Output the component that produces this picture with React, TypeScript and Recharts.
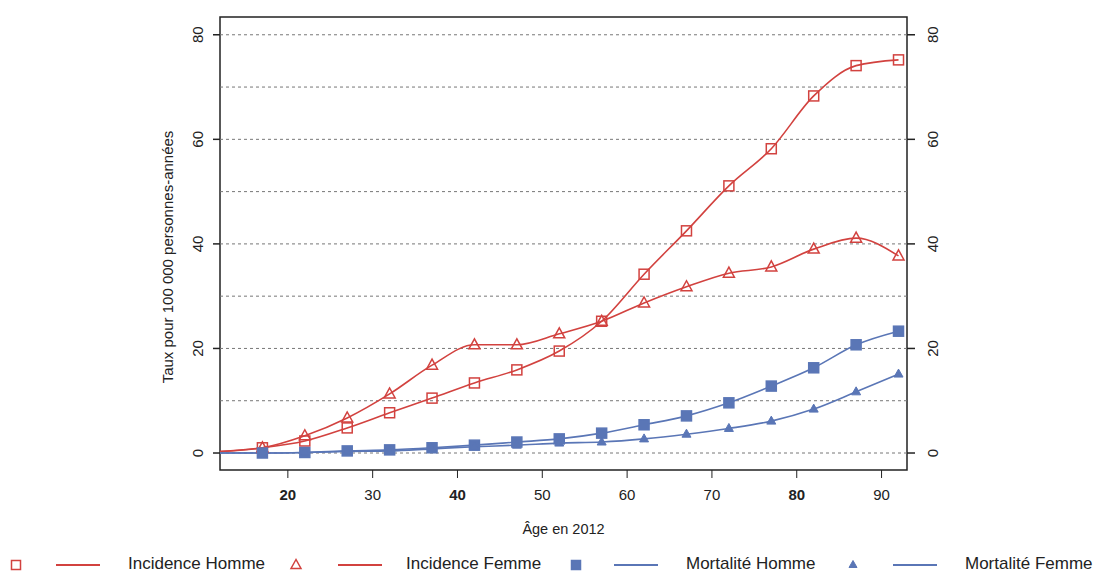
import React from 'react'
import { LineChart, Line, XAxis, YAxis, ReferenceLine, ReferenceArea } from 'recharts'

// âges (le point 12 ne porte pas de marqueur, il sert seulement au tracé de la courbe)
const ages = [12, 17, 22, 27, 32, 37, 42, 47, 52, 57, 62, 67, 72, 77, 82, 87, 92]
const incidenceHomme = [0.3, 1.0, 2.3, 4.8, 7.7, 10.5, 13.4, 15.9, 19.5, 25.2, 34.2, 42.5, 51.1, 58.2, 68.3, 74.1, 75.2]
const incidenceFemme = [0.3, 1.0, 3.3, 6.7, 11.3, 16.8, 20.7, 20.7, 22.8, 25.2, 28.7, 31.8, 34.4, 35.6, 39.0, 41.1, 37.7]
const mortaliteHomme = [0, 0, 0.1, 0.4, 0.6, 1.0, 1.5, 2.1, 2.7, 3.8, 5.4, 7.1, 9.6, 12.8, 16.3, 20.7, 23.3]
const mortaliteFemme = [0, 0, 0.1, 0.3, 0.4, 0.8, 1.2, 1.5, 1.9, 2.1, 2.7, 3.6, 4.7, 6.1, 8.4, 11.7, 15.1]

const xTicks = [20, 30, 40, 50, 60, 70, 80, 90]
const boldXTicks = [20, 40, 80]
const yTicks = [0, 20, 40, 60, 80]
const gridValues = [0, 10, 20, 30, 40, 50, 60, 70, 80]

const RED = '#d2423f'
const BLUE = '#5a76b6'
const FONT = '"Liberation Sans", Arial, sans-serif'

const data = ages.map((age, i) => ({
  age,
  incH: incidenceHomme[i],
  incF: incidenceFemme[i],
  morH: mortaliteHomme[i],
  morF: mortaliteFemme[i],
}))

type Shape = 'square' | 'triangle'

const Marker = ({ cx, cy, shape, filled, color, size = 10 }: any) => {
  if (shape === 'square') {
    const h = size / 2
    return (
      <rect
        x={cx - h}
        y={cy - h}
        width={size}
        height={size}
        fill={filled ? color : 'white'}
        fillOpacity={filled ? 1 : 0}
        stroke={color}
        strokeWidth={1.5}
      />
    )
  }
  const s = filled ? size - 2 : size
  const h = s / 2
  const pts = `${cx},${cy - h - 1} ${cx - h - 0.5},${cy + h - 1} ${cx + h + 0.5},${cy + h - 1}`
  return (
    <polygon
      points={pts}
      fill={filled ? color : 'none'}
      stroke={color}
      strokeWidth={filled ? 1 : 1.5}
    />
  )
}

const makeDot = (shape: Shape, filled: boolean, color: string) => (props: any) => {
  const { cx, cy, payload, index } = props
  if (payload.age < 15) return <g key={index} />
  return <Marker key={index} cx={cx} cy={cy} shape={shape} filled={filled} color={color} />
}

const series = [
  { key: 'incH', name: 'Incidence Homme', color: RED, shape: 'square' as Shape, filled: false },
  { key: 'incF', name: 'Incidence Femme', color: RED, shape: 'triangle' as Shape, filled: false },
  { key: 'morH', name: 'Mortalité Homme', color: BLUE, shape: 'square' as Shape, filled: true },
  { key: 'morF', name: 'Mortalité Femme', color: BLUE, shape: 'triangle' as Shape, filled: true },
]

const XTick = ({ x, y, payload }: any) => (
  <text
    x={x}
    y={y + 20}
    textAnchor="middle"
    fontSize={15}
    fontFamily={FONT}
    fontWeight={boldXTicks.includes(payload.value) ? 700 : 400}
    fill="#222"
  >
    {payload.value}
  </text>
)

const YTick = ({ x, y, payload, side }: any) => {
  const tx = side === 'left' ? x - 8 : x + 21
  return (
    <text
      x={tx}
      y={y}
      transform={`rotate(-90 ${tx} ${y})`}
      textAnchor="middle"
      fontSize={15}
      fontFamily={FONT}
      fill="#222"
    >
      {payload.value}
    </text>
  )
}

// positions de la légende (en px)
const legendPos = [
  { marker: 16, line: 56, text: 128 },
  { marker: 296, line: 338, text: 406 },
  { marker: 576, line: 614, text: 686 },
  { marker: 853, line: 893, text: 965 },
]

export default function App() {
  return (
    <div style={{ position: 'relative', width: 1096, height: 572, fontFamily: FONT, background: 'white' }}>
      <style>{'body{margin:0}'}</style>
      <LineChart width={1096} height={572} data={data} margin={{ top: 17, right: 0, left: 0, bottom: 0 }}>
        <XAxis
          dataKey="age"
          type="number"
          domain={[12, 93]}
          ticks={xTicks}
          allowDataOverflow
          height={102}
          tickSize={8}
          tickLine={{ stroke: '#222' }}
          axisLine={false}
          tick={<XTick />}
          label={{ value: 'Âge en 2012', position: 'insideTop', offset: 54, fontSize: 14.5, fill: '#222', fontFamily: FONT }}
        />
        <YAxis
          yAxisId="left"
          type="number"
          domain={[-3.25, 83.4]}
          ticks={yTicks}
          allowDataOverflow
          width={220}
          tickSize={7}
          tickLine={{ stroke: '#222', strokeWidth: 1.5 }}
          axisLine={false}
          tick={<YTick side="left" />}
        />
        <YAxis
          yAxisId="right"
          orientation="right"
          type="number"
          domain={[-3.25, 83.4]}
          ticks={yTicks}
          allowDataOverflow
          width={189}
          tickSize={8}
          tickLine={{ stroke: '#222', strokeWidth: 1.5 }}
          axisLine={false}
          tick={<YTick side="right" />}
        />
        {gridValues.map((v) => (
          <ReferenceLine key={v} yAxisId="left" y={v} stroke="#777" strokeDasharray="3 3" strokeWidth={1} />
        ))}
        <ReferenceArea
          yAxisId="left"
          x1={12}
          x2={93}
          y1={-3.25}
          y2={83.4}
          fill="none"
          stroke="#222"
          strokeWidth={1.5}
          ifOverflow="visible"
        />
        {series.map((s) => (
          <Line
            key={s.key}
            yAxisId="left"
            dataKey={s.key}
            name={s.name}
            type="monotone"
            stroke={s.color}
            strokeWidth={1.6}
            dot={makeDot(s.shape, s.filled, s.color)}
            activeDot={false}
            isAnimationActive={false}
          />
        ))}
        <text
          x={173}
          y={257}
          transform="rotate(-90 173 257)"
          textAnchor="middle"
          fontSize={15}
          fontFamily={FONT}
          fill="#222"
        >
          Taux pour 100 000 personnes-années
        </text>
      </LineChart>
      {series.map((s, i) => (
        <React.Fragment key={s.key}>
          <svg
            width={16}
            height={16}
            style={{ position: 'absolute', left: legendPos[i].marker - 8, top: 557 }}
          >
            <Marker cx={8} cy={8} shape={s.shape} filled={s.filled} color={s.color} size={9} />
          </svg>
          <div
            style={{
              position: 'absolute',
              left: legendPos[i].line,
              top: 564,
              width: 44,
              height: 0,
              borderTop: `2px solid ${s.color}`,
            }}
          />
          <div
            style={{
              position: 'absolute',
              left: legendPos[i].text,
              top: 554,
              fontSize: 17,
              color: '#222',
              whiteSpace: 'nowrap',
            }}
          >
            {s.name}
          </div>
        </React.Fragment>
      ))}
    </div>
  )
}
